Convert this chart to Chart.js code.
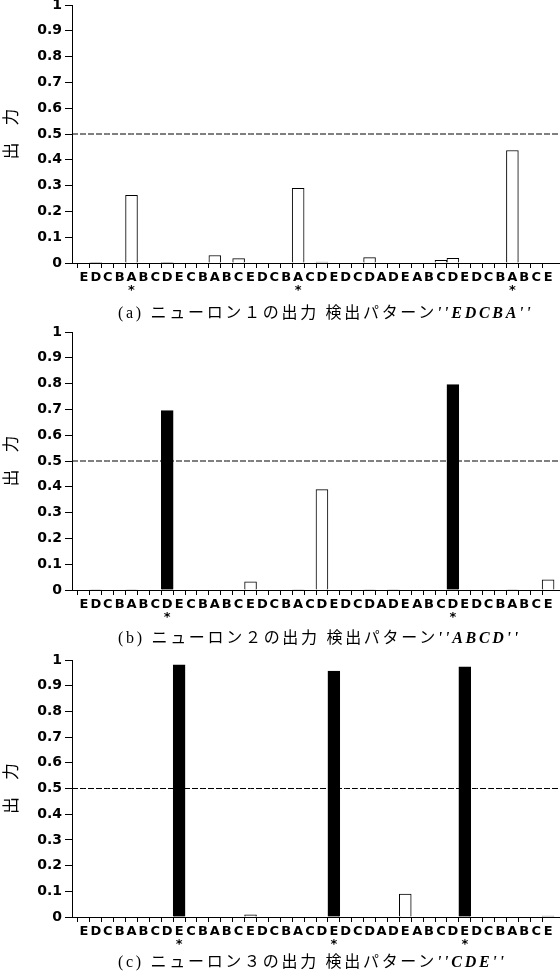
<!DOCTYPE html>
<html><head><meta charset="utf-8">
<script src="https://cdn.jsdelivr.net/npm/chart.js@4.4.0/dist/chart.umd.min.js"></script>
<style>
html,body{margin:0;padding:0;background:#fff;width:560px;height:977px;overflow:hidden;}
.panel{position:absolute;left:0;width:560px;}
canvas{display:block;}
.cap{position:absolute;left:118px;font-family:'Liberation Serif','Noto Sans CJK JP',serif;font-size:16px;line-height:18px;color:#000;white-space:nowrap;letter-spacing:2.7px;}
.cap i{font-weight:bold;}
</style></head><body>
<div class="panel" style="top:0px"><canvas id="c1" width="560" height="325"></canvas></div>
<div class="panel" style="top:325px"><canvas id="c2" width="560" height="325"></canvas></div>
<div class="panel" style="top:650px"><canvas id="c3" width="560" height="327"></canvas></div>
<div class="cap" id="cap1" style="top:304px"></div>
<div class="cap" id="cap2" style="top:629px"></div>
<div class="cap" id="cap3" style="top:953px"></div>
<script>
// ---- data ----
const sequence = ['E','D','C','B','A','B','C','D','E','C','B','A','B','C','E','D','C','B','A','C',
                  'D','E','D','C','D','A','D','E','A','B','C','D','E','D','C','B','A','B','C','E'];
const neuron1 = [0,0.003,0,0,0.262,0,0,0.003,0,0, 0,0.029,0,0.017,0,0,0,0,0.289,0,
                 0.004,0,0,0,0.021,0,0,0,0,0, 0.010,0.018,0,0,0,0,0.436,0,0,0];
const neuron2 = [0,0.002,0,0,0.002,0,0,0.695,0,0, 0,0,0,0,0.032,0,0,0,0.002,0,
                 0.389,0,0,0,0.002,0,0.002,0,0,0, 0,0.796,0,0,0,0,0.002,0,0,0.039];
const neuron3 = [0,0,0,0,0,0,0,0,0.981,0, 0,0,0,0,0.008,0,0,0,0,0,
                 0,0.957,0,0,0,0,0,0.089,0,0, 0,0,0.973,0,0,0,0,0,0,0.004];
const starred1 = [4,18,36];
const starred2 = [7,31];
const starred3 = [8,21,32];
const yTickLabels = ['0','0.1','0.2','0.3','0.4','0.5','0.6','0.7','0.8','0.9','1'];
const THRESHOLD = 0.5;
const panelTags = ['(a)','(b)','(c)'];
const neuronNums = ['１','２','３'];
const patterns = ['EDCBA','ABCD','CDE'];

function makePanel(id, values, starred, top, plotH, H){
  const labels = [['',''], ...sequence.map((c,i)=>[c, starred.includes(i)?'*':'']), ['','']];
  const barData = [null, ...values, null];
  const lineData = labels.map(()=>THRESHOLD);
  const last = labels.length-1;
  new Chart(document.getElementById(id), {
    data:{labels, datasets:[
      {type:'bar', data:barData, order:1,
       backgroundColor:c=>(c.raw!=null && c.raw>THRESHOLD)?'#000':'#fff',
       borderColor:'#000', borderWidth:1, barPercentage:1, categoryPercentage:1},
      {type:'line', data:lineData, order:2, borderColor:'#000', borderWidth:1,
       borderDash:[6,2], pointRadius:0, fill:false}
    ]},
    options:{
      responsive:false, animation:false, devicePixelRatio:1,
      layout:{padding:{top:top,left:0,right:0,bottom:0}},
      plugins:{legend:{display:false}, tooltip:{enabled:false}},
      scales:{
        x:{type:'category', offset:false,
           grid:{display:true, drawOnChartArea:false, tickLength:5, lineWidth:1,
                 color:c=>(c.index===0||c.index===last)?'rgba(0,0,0,0)':'#000'},
           border:{display:true,color:'#000',width:1},
           ticks:{autoSkip:false,maxRotation:0,minRotation:0,padding:3,color:'#000',
                  font:{family:'DejaVu Sans',size:13,weight:'bold',lineHeight:1.0}},
           afterFit:s=>{s.height=H-top-plotH; s.paddingLeft=0; s.paddingRight=0;}},
        y:{type:'linear', min:0, max:1,
           ticks:{stepSize:0.1,padding:3,color:'#000',
                  font:{family:'DejaVu Sans',size:14,weight:'bold'},
                  callback:(v,i)=>yTickLabels[i]},
           grid:{drawOnChartArea:false,tickLength:7,color:'#000',lineWidth:1},
           border:{display:true,color:'#000',width:1},
           title:{display:true,text:'出　力',color:'#000',
                  font:{family:'Noto Sans CJK JP',size:17},padding:{top:0,bottom:0}},
           afterFit:s=>{s.width=72; s.paddingTop=0; s.paddingBottom=0;}}
      }
    }
  });
}
makePanel('c1', neuron1, starred1, 5, 258, 325);
makePanel('c2', neuron2, starred2, 7, 258, 325);
makePanel('c3', neuron3, starred3, 10, 257, 327);

[0,1,2].forEach(k=>{
  const el = document.getElementById('cap'+(k+1));
  el.innerHTML = panelTags[k]+' ニューロン'+neuronNums[k]+'の出力 検出パターン<i>\'\''+patterns[k]+'\'\'</i>';
});
</script>
</body></html>
